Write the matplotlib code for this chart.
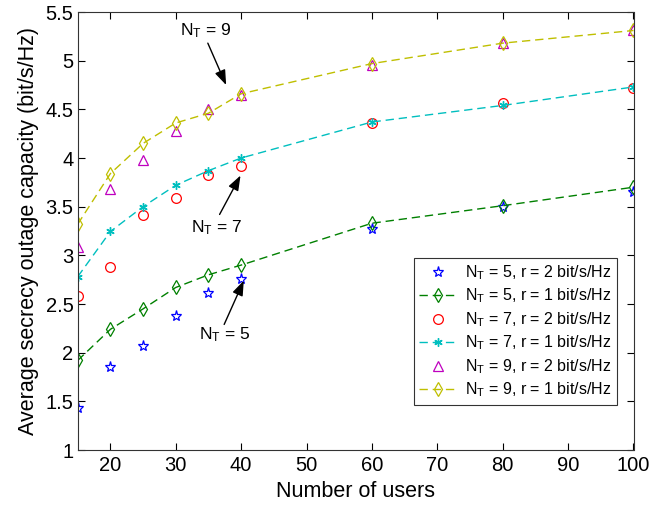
import matplotlib
matplotlib.use("Agg")
import matplotlib.pyplot as plt

plt.rcParams['font.family'] = ['Liberation Sans', 'DejaVu Sans']
plt.rcParams['mathtext.fontset'] = 'custom'
plt.rcParams['mathtext.rm'] = 'Liberation Sans'

users = [15, 20, 25, 30, 35, 40, 60, 80, 100]
nt5_r2 = [1.43, 1.85, 2.07, 2.38, 2.61, 2.76, 3.27, 3.50, 3.65]
nt5_r1 = [1.92, 2.24, 2.45, 2.67, 2.80, 2.90, 3.33, 3.51, 3.70]
nt7_r2 = [2.58, 2.88, 3.41, 3.59, 3.83, 3.92, 4.36, 4.56, 4.72]
nt7_r1 = [2.78, 3.245, 3.50, 3.72, 3.87, 4.00, 4.37, 4.54, 4.73]
nt9_r2 = [3.09, 3.68, 3.98, 4.28, 4.50, 4.65, 4.96, 5.18, 5.31]
nt9_r1 = [3.32, 3.84, 4.15, 4.36, 4.46, 4.66, 4.97, 5.18, 5.31]

labels = [r'$\mathregular{N_T}$ = 5, r = 2 bit/s/Hz',
          r'$\mathregular{N_T}$ = 5, r = 1 bit/s/Hz',
          r'$\mathregular{N_T}$ = 7, r = 2 bit/s/Hz',
          r'$\mathregular{N_T}$ = 7, r = 1 bit/s/Hz',
          r'$\mathregular{N_T}$ = 9, r = 2 bit/s/Hz',
          r'$\mathregular{N_T}$ = 9, r = 1 bit/s/Hz']

fig = plt.figure(figsize=(6.52, 5.07), dpi=100)
ax = fig.add_axes([77.7 / 652, 1 - 450 / 507, (633.5 - 77.7) / 652, (450 - 12) / 507])

blue = (0, 0, 1)
green = (0, 0.5, 0)
red = (1, 0, 0)
cyan = (0, 0.75, 0.75)
mag = (0.75, 0, 0.75)
yel = (0.75, 0.75, 0)
dash = (6, 3.5)

ax.plot(users, nt5_r2, linestyle='none', marker='*', mfc='none', mec=blue, ms=8, mew=0.9, label=labels[0])
ax.plot(users, nt5_r1, linestyle='--', dashes=dash, color=green, marker='d', mfc='none', mec=green, ms=7, mew=0.9, lw=1, label=labels[1])
ax.plot(users, nt7_r2, linestyle='none', marker='o', mfc='none', mec=red, ms=7, mew=0.9, label=labels[2])
ax.plot(users, nt7_r1, linestyle='--', dashes=dash, color=cyan, marker=(6, 2, 0), mec=cyan, ms=6, lw=1, label=labels[3])
ax.plot(users, nt9_r2, linestyle='none', marker='^', mfc='none', mec=mag, ms=7, mew=0.9, label=labels[4])
ax.plot(users, nt9_r1, linestyle='--', dashes=dash, color=yel, marker='d', mfc='none', mec=yel, ms=7, mew=0.9, lw=1, label=labels[5])

ax.set_xlim(15, 100)
ax.set_ylim(1, 5.5)
ax.set_xticks([20, 30, 40, 50, 60, 70, 80, 90, 100])
ax.set_yticks([1, 1.5, 2, 2.5, 3, 3.5, 4, 4.5, 5, 5.5])
ax.set_yticklabels(['1', '1.5', '2', '2.5', '3', '3.5', '4', '4.5', '5', '5.5'])
ax.tick_params(direction='in', top=True, right=True, labelsize=14.5, length=5, width=0.8)
ax.tick_params(axis='x', pad=4.5)
ax.tick_params(axis='y', pad=3)
for s in ax.spines.values():
    s.set_linewidth(0.8)
    s.set_color('#333333')

ax.set_xlabel('Number of users', fontsize=15.5, labelpad=4)
ax.set_ylabel('Average secrecy outage capacity (bit/s/Hz)', fontsize=15.5, labelpad=5)

leg = ax.legend(loc='lower right', bbox_to_anchor=(0.970, 0.103), bbox_transform=ax.transAxes,
                borderaxespad=0, fontsize=11.5, frameon=True,
                fancybox=False, edgecolor='black', handlelength=2.4, borderpad=0.35,
                labelspacing=0.3, handletextpad=0.45)
leg.get_frame().set_linewidth(0.8)

arrow = dict(arrowstyle='-|>,head_length=0.6,head_width=0.22', color='black', lw=1,
             shrinkA=0, shrinkB=0, mutation_scale=15)
ax.text(34.5, 5.31, r'$\mathregular{N_T}$ = 9', fontsize=12.5, ha='center', va='center')
ax.annotate('', xy=(37.7, 4.75), xytext=(34.9, 5.18), arrowprops=arrow)
ax.text(36.2, 3.28, r'$\mathregular{N_T}$ = 7', fontsize=12.5, ha='center', va='center')
ax.annotate('', xy=(39.9, 3.82), xytext=(36.7, 3.42), arrowprops=arrow)
ax.text(37.5, 2.18, r'$\mathregular{N_T}$ = 5', fontsize=12.5, ha='center', va='center')
ax.annotate('', xy=(40.4, 2.74), xytext=(37.4, 2.29), arrowprops=arrow)

fig.savefig('out.png', dpi=100)
